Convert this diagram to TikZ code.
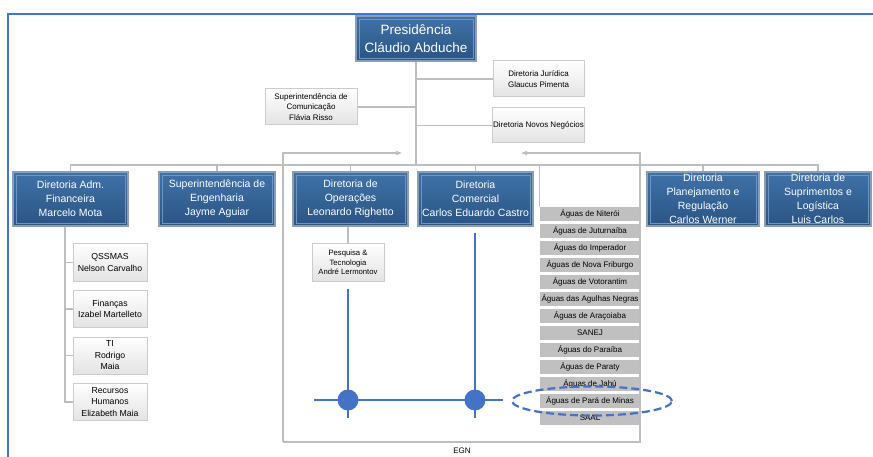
\documentclass[tikz,border=0pt]{standalone}
\usepackage{fontspec}
\setmainfont{Liberation Sans}
\usepackage{tikz}
\usetikzlibrary{positioning, arrows.meta, calc}

\definecolor{frameblue}{RGB}{70,116,200}
\definecolor{boxtop}{RGB}{64,114,168}
\definecolor{boxbot}{RGB}{42,84,132}
\definecolor{boxedge}{RGB}{140,158,180}
\definecolor{boxinner}{RGB}{110,150,196}
\definecolor{lineblue}{RGB}{68,114,196}
\definecolor{conngray}{RGB}{190,190,190}
\definecolor{aguagray}{RGB}{192,192,192}

\begin{document}
\begin{tikzpicture}[x=1pt, y=-1pt,
    dirbox/.style={draw=boxedge, line width=1.2pt, top color=boxtop, bottom color=boxbot, text=white,
      align=center, inner sep=1pt, minimum height=54pt, font=\fontsize{10.5}{14}\selectfont,
      path picture={\draw[boxinner, line width=0.8pt]
        ([shift={(3pt,-3pt)}]path picture bounding box.north west) rectangle
        ([shift={(-3pt,3pt)}]path picture bounding box.south east);}},
    subbox/.style={draw=gray!40, line width=1pt, top color=white, bottom color=gray!22, align=center, inner sep=1pt,
      font=\fontsize{8}{10.5}\selectfont},
    adminbox/.style={subbox, minimum width=74pt, minimum height=37pt, font=\fontsize{8.7}{11.5}\selectfont},
    agua/.style={fill=aguagray, minimum width=100pt, minimum height=14pt, inner sep=0pt,
      font=\fontsize{8}{9}\selectfont},
    conn/.style={draw=conngray, line width=1.1pt},
    bluel/.style={draw=lineblue, line width=1.3pt}]
    \useasboundingbox (0,0) rectangle (873,457);
    % Outer frame
    \draw[frameblue, line width=1.5pt] (8,457) -- (8,14) -- (873,14);

    % Top of the chart
    \node[dirbox, minimum width=120pt, minimum height=45pt, font=\fontsize{13.5}{18}\selectfont] (pres) at (416,38.5) {Presidência\\Cláudio Abduche};
    \node[subbox, minimum width=92pt, minimum height=36pt] (comm) at (311,107) {Superintendência de\\Comunicação\\Flávia Risso};
    \node[subbox, minimum width=91pt, minimum height=36pt] (jur) at (538.5,79) {Diretoria Jurídica\\Glaucus Pimenta};
    \node[subbox, minimum width=91pt, minimum height=35pt] (novos) at (538.5,125.5) {Diretoria Novos Negócios};
    \coordinate (bus) at (416,165);
    \draw[conn] (pres.south) -- (bus);
    \draw[conn] (comm.east) -- (comm.east -| bus);
    \draw[conn] (jur.west) -- (jur.west -| bus);
    \draw[conn] (novos.west) -- (novos.west -| bus);

    % Directorates
    \node[dirbox, minimum width=115pt] (adm) at (70.5,199) {Diretoria Adm.\\Financeira\\Marcelo Mota};
    \node[dirbox, minimum width=116pt] (eng) at (217,199) {Superintendência de\\Engenharia\\Jayme Aguiar};
    \node[dirbox, minimum width=115pt] (oper) at (350.5,199) {Diretoria de\\Operações\\Leonardo Righetto};
    \node[dirbox, minimum width=115pt] (com) at (475.5,199) {Diretoria\\Comercial\\Carlos Eduardo Castro};
    \node[dirbox, minimum width=112pt, inner ysep=0pt] (plan) at (703,199) {Diretoria\\Planejamento e\\Regulação\\Carlos Werner};
    \node[dirbox, minimum width=106pt, inner ysep=0pt] (sup) at (818,199) {Diretoria de\\Suprimentos e\\Logística\\Luis Carlos};
    \foreach \n in {adm,eng,oper,com,plan,sup}
        \draw[conn] (\n.north) |- (bus);

    % Water companies
    \foreach \t [count=\i from 0] in {Águas de Niterói, Águas de Juturnaíba, Águas do Imperador,
        Águas de Nova Friburgo, Águas de Votorantim, Águas das Agulhas Negras, Águas de Araçoiaba,
        SANEJ, Águas do Paraíba, Águas de Paraty, Águas de Jahú, Águas de Pará de Minas, SAAL}
        \node[agua] (ag\i) at (590,214+17*\i) {\t};
    \draw[conn] (ag0.north west) |- (bus);

    % EGN group
    \coordinate (egnl) at (283,442);
    \coordinate (egnr) at (640,442);
    \draw[conn, -{Triangle[length=6pt,width=4pt]}] (egnl) |- (402,153);
    \draw[conn, -{Triangle[length=6pt,width=4pt]}] (egnl) -- (egnr) |- (521,153);
    \node[font=\fontsize{8}{9}\selectfont] (egn) at (462,451) {EGN};

    % Adm. Financeira staff
    \node[adminbox] (qssmas) at (110,262.5) {QSSMAS\\Nelson Carvalho};
    \node[adminbox, below=8.5pt of qssmas] (fin) {Finanças\\Izabel Martelleto};
    \node[adminbox, below=8.5pt of fin] (ti) {TI\\Rodrigo\\Maia};
    \node[adminbox, below=8.5pt of ti] (rh) {Recursos\\Humanos\\Elizabeth Maia};
    \coordinate (admtap) at ([xshift=-5.5pt]adm.south);
    \draw[conn] (admtap) |- (rh.west);
    \foreach \n in {qssmas,fin,ti}
        \draw[conn] (\n.west) -- (\n.west -| admtap);

    % Research
    \node[subbox, minimum width=72pt, minimum height=37pt, font=\fontsize{7.7}{9.5}\selectfont] (pesq) at (348,262.5) {Pesquisa \&\\Tecnologia\\André Lermontov};
    \draw[conn] (pesq.north |- oper.south) -- (pesq.north);

    % Blue links
    \coordinate (dota) at (348,400);
    \coordinate (dotb) at (475,400);
    \draw[bluel] (348,289) -- (348,418);
    \draw[bluel] (475,233) -- (475,418);
    \draw[bluel] (314,400) -- (503,400);
    \fill[lineblue] (dota) circle[radius=10.5pt];
    \fill[lineblue] (dotb) circle[radius=10.5pt];
    \draw[lineblue, line width=2.2pt, dash pattern=on 8pt off 4pt] (ag11.center) ++(2,0) ellipse [x radius=80pt, y radius=14.5pt];
\end{tikzpicture}
\end{document}
